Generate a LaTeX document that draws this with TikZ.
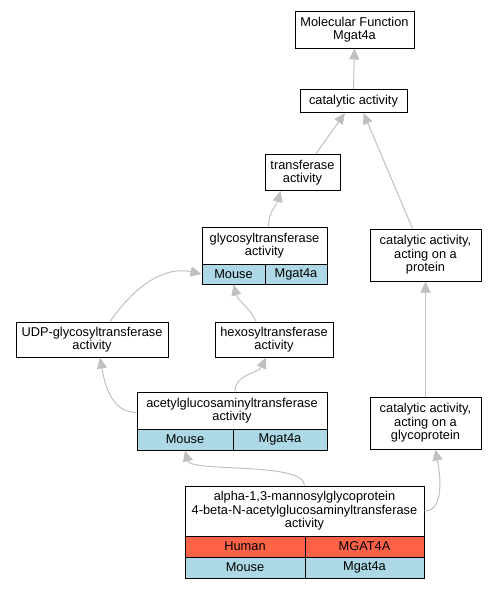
\documentclass[tikz,border=0pt]{standalone}
\usepackage{fontspec}
\setmainfont{Liberation Sans}
\usetikzlibrary{arrows.meta}
\definecolor{edgec}{HTML}{C0C0C0}
\definecolor{tomatoc}{HTML}{FF6347}
\definecolor{lblue}{HTML}{ADD8E6}
\tikzset{
  box/.style={draw=black, line width=1pt, fill=white, inner sep=0pt, align=center,
    font=\fontsize{12.8}{13.5}\selectfont},
  hcell/.style={box, fill=tomatoc},
  mcell/.style={box, fill=lblue},
  edge/.style={draw=edgec, line width=1pt, -{Triangle[length=11pt,width=10pt]}},
}
\begin{document}
\begin{tikzpicture}[x=1pt,y=-1pt]
\useasboundingbox (0,0) rectangle (495,589);
% nodes
\node[box, minimum width=119pt, minimum height=37pt] (mf) at (354.5,29.5) {Molecular Function\\Mgat4a};
\node[box, minimum width=107pt, minimum height=23pt] (cat) at (353.5,101) {catalytic activity};
\node[box, minimum width=75pt, minimum height=36pt] (trans) at (302.5,172.5) {transferase\\activity};
\node[box, minimum width=125pt, minimum height=37pt] (gh) at (264.5,245.5) {glycosyltransferase\\activity};
\node[mcell, minimum width=63pt, minimum height=20pt] (gm) at (233.5,274) {Mouse};
\node[mcell, minimum width=62pt, minimum height=20pt] (gg) at (296,274) {Mgat4a};
\node[box, minimum width=111pt, minimum height=52pt] (prot) at (425.5,255) {catalytic activity,\\acting on a\\protein};
\node[box, minimum width=152pt, minimum height=35pt] (udp) at (92,339.5) {UDP-glycosyltransferase\\activity};
\node[box, minimum width=118pt, minimum height=35pt] (hexo) at (274,339.5) {hexosyltransferase\\activity};
\node[box, minimum width=190pt, minimum height=37pt] (ah) at (232,410.5) {acetylglucosaminyltransferase\\activity};
\node[mcell, minimum width=96pt, minimum height=21pt] (am) at (185,439.5) {Mouse};
\node[mcell, minimum width=94pt, minimum height=21pt] (ag) at (280,439.5) {Mgat4a};
\node[box, minimum width=111pt, minimum height=52pt] (gp) at (425.5,423) {catalytic activity,\\acting on a\\glycoprotein};
\node[box, minimum width=239pt, minimum height=50pt] (bh) at (304.5,511) {alpha-1,3-mannosylglycoprotein\\4-beta-N-acetylglucosaminyltransferase\\activity};
\node[hcell, minimum width=120pt, minimum height=21pt] (bhu) at (245,546.5) {Human};
\node[hcell, minimum width=119pt, minimum height=21pt] (bhg) at (364.5,546.5) {MGAT4A};
\node[mcell, minimum width=120pt, minimum height=21pt] (bmo) at (245,567.5) {Mouse};
\node[mcell, minimum width=119pt, minimum height=21pt] (bmg) at (364.5,567.5) {Mgat4a};
% edges
\draw[edge] (cat.north) -- (mf.south);
\draw[edge] (trans) -- (cat);
\draw[edge] ([xshift=-13pt]prot.north) -- ([xshift=10pt]cat.south);
\draw[edge] ([xshift=4pt]gh.north) to[out=90,in=-105] ([xshift=-22pt]trans.south);
\draw[edge] ([xshift=18pt]udp.north) to[out=55,in=168] (gm.west);
\draw[edge] ([xshift=-18pt]hexo.north) to[out=115,in=-75] (gm.south);
\draw[edge] ([yshift=-2pt]ah.west) to[out=180,in=-80] ([xshift=8pt]udp.south);
\draw[edge] ([xshift=3pt]ah.north) to[out=90,in=-115] ([xshift=-8pt]hexo.south);
\draw[edge] (bh.north) .. controls +(0,-24) and +(6,22) .. (am.south);
\draw[edge] (gp.north) -- (prot.south);
\draw[edge] (bh.east) .. controls +(18,0) and +(6,32) .. ([xshift=10pt]gp.south);
\end{tikzpicture}
\end{document}
